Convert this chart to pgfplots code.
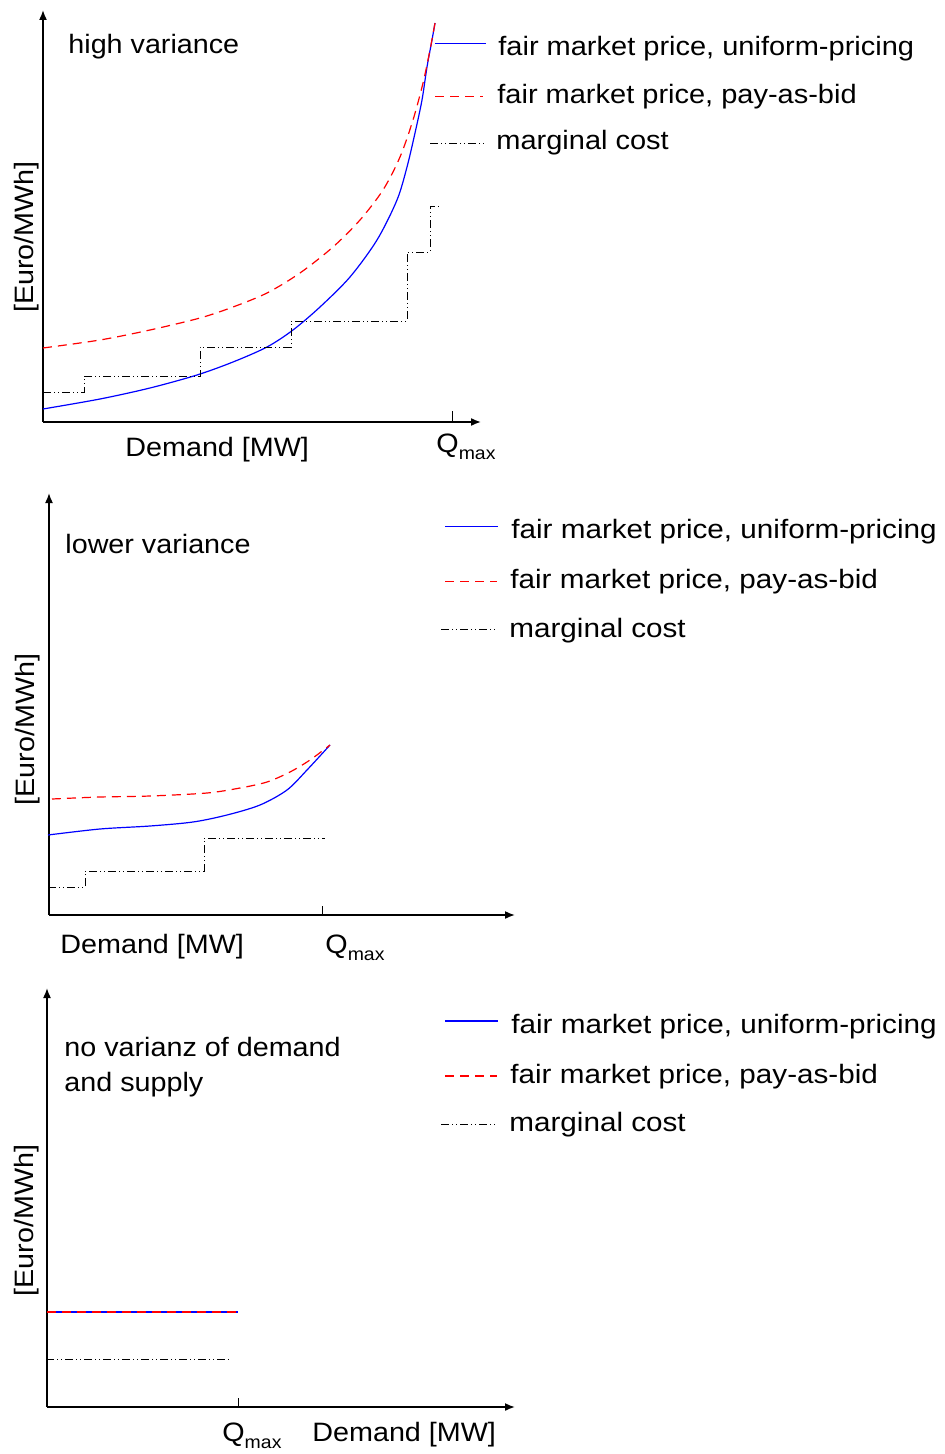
\documentclass[border=0pt]{standalone}
\usepackage{fontspec}
\setmainfont{Liberation Sans}[FakeStretch=1.08]
\newfontfamily\legA{Liberation Sans}[FakeStretch=1.09]
\newfontfamily\legB{Liberation Sans}[FakeStretch=1.115]
\usepackage{pgfplots}
\pgfplotsset{compat=1.18}
\usetikzlibrary{arrows.meta}

\tikzset{
  lbl/.style={font=\fontsize{13.3}{16}\selectfont, inner sep=0pt, anchor=base west},
  legtA/.style={font=\legA\fontsize{13.3}{16}\selectfont, inner sep=0pt, anchor=base west},
  legtB/.style={font=\legB\fontsize{13.3}{16}\selectfont, inner sep=0pt, anchor=base west},
  ylbl/.style={font=\fontsize{13.3}{16}\selectfont, inner sep=0pt, anchor=base, rotate=90},
  axarrow/.style={line width=0.8pt, -{Latex[length=5pt,width=4pt]}},
  unif/.style={blue, line width=0.6pt},
  pab/.style={red, line width=0.6pt, dash pattern=on 4.5pt off 3pt},
  mc/.style={black, line width=0.45pt, dash pattern=on 4pt off 1.5pt on 0.5pt off 1.5pt on 0.5pt off 1.5pt},
  leg/.style={line width=0.7pt},
}
\newcommand{\Qmax}{Q\raisebox{-3.5pt}{\fontsize{9}{10}\selectfont max}}

\pgfplotsset{panel/.style={scale only axis, width=472pt, xmin=0, xmax=944,
  axis lines=none, ticks=none, clip=false, anchor=north west}}

\begin{document}
\begin{tikzpicture}
\useasboundingbox (0pt,0pt) rectangle (472pt,-727pt);
% ---------------- panel 1: high variance
\begin{axis}[panel, height=235pt, ymin=-470, ymax=0, at={(0pt,0pt)}]
\draw[axarrow] (axis cs:43,-422) -- (axis cs:43,-10);
\draw[axarrow] (axis cs:43,-422) -- (axis cs:481,-422);
\draw[line width=0.5pt] (axis cs:452,-422) -- (axis cs:452,-411);
\addplot[unif, smooth] coordinates {(43,-409) (100,-399) (150,-388) (197,-375) (233,-362) (267,-347) (293,-330) (320,-307) (350,-277) (377,-240) (397,-200) (407,-167) (415,-133) (422,-100) (427,-67) (432,-40) (435,-23)};
\addplot[pab, smooth] coordinates {(43,-348) (100,-340) (150,-330) (200,-318) (233,-307) (267,-293) (300,-273) (333,-247) (360,-220) (383,-190) (400,-157) (413,-120) (423,-83) (430,-50) (435,-23)};
\addplot[mc, const plot] coordinates {(43,-392) (84,-376) (200,-347) (291,-321) (407,-252) (430,-206) (440,-206)};
\node[lbl] at (axis cs:68,-53.3) {high variance};
\node[ylbl] at (axis cs:34,-237) {[Euro/MWh]};
\node[lbl] at (axis cs:125,-456) {Demand [MW]};
\node[lbl] at (axis cs:436,-452) {\Qmax};
\draw[unif, leg] (axis cs:435,-43.3) -- (axis cs:486,-43.3);
\node[legtA] at (axis cs:498,-56) {fair market price, uniform-pricing};
\draw[pab, leg] (axis cs:435,-96.7) -- (axis cs:483,-96.7);
\node[legtA] at (axis cs:497,-103.3) {fair market price, pay-as-bid};
\draw[mc] (axis cs:430,-143.3) -- (axis cs:485,-143.3);
\node[legtA] at (axis cs:496,-150) {marginal cost};
\end{axis}
% ---------------- panel 2: lower variance
\begin{axis}[panel, height=250pt, ymin=-970, ymax=-470, at={(0pt,-235pt)}]
\draw[axarrow] (axis cs:49,-915) -- (axis cs:49,-493);
\draw[axarrow] (axis cs:49,-915) -- (axis cs:515,-915);
\draw[line width=0.5pt] (axis cs:322,-915) -- (axis cs:322,-906);
\addplot[unif, smooth] coordinates {(48,-835) (100,-829) (150,-826) (193,-822) (227,-815) (260,-805) (287,-790) (307,-770) (330,-745)};
\addplot[pab, smooth] coordinates {(52,-799) (100,-797) (150,-796) (207,-793) (240,-788) (267,-782) (290,-772) (310,-760) (330,-745)};
\addplot[mc, const plot] coordinates {(48,-887) (85,-871) (204,-838) (325,-838)};
\node[lbl] at (axis cs:65,-553) {lower variance};
\node[ylbl] at (axis cs:34,-729.5) {[Euro/MWh]};
\node[lbl] at (axis cs:60,-953) {Demand [MW]};
\node[lbl] at (axis cs:325,-953) {\Qmax};
\draw[unif, leg] (axis cs:445,-526.7) -- (axis cs:498,-526.7);
\node[legtB] at (axis cs:511,-538) {fair market price, uniform-pricing};
\draw[pab, leg] (axis cs:445,-581.7) -- (axis cs:497,-581.7);
\node[legtB] at (axis cs:510,-588) {fair market price, pay-as-bid};
\draw[mc] (axis cs:441,-629) -- (axis cs:497,-629);
\node[legtB] at (axis cs:509,-637) {marginal cost};
\end{axis}
% ---------------- panel 3: no variance
\begin{axis}[panel, height=242pt, ymin=-1454, ymax=-970, at={(0pt,-485pt)}]
\draw[axarrow] (axis cs:47,-1407) -- (axis cs:47,-988);
\draw[axarrow] (axis cs:47,-1407) -- (axis cs:515,-1407);
\draw[line width=0.5pt] (axis cs:238,-1407) -- (axis cs:238,-1398);
\addplot[unif] coordinates {(47,-1312) (238,-1312)};
\addplot[pab] coordinates {(47,-1312) (238,-1312)};
\addplot[mc] coordinates {(46,-1359) (231,-1359)};
\node[lbl] at (axis cs:64,-1056.7) {no varianz of demand};
\node[lbl] at (axis cs:64,-1091) {and supply};
\node[ylbl] at (axis cs:34,-1220.5) {[Euro/MWh]};
\node[lbl] at (axis cs:222,-1441) {\Qmax};
\node[lbl] at (axis cs:312,-1441) {Demand [MW]};
\draw[unif, leg] (axis cs:445,-1021) -- (axis cs:498,-1021);
\node[legtB] at (axis cs:511,-1033.3) {fair market price, uniform-pricing};
\draw[pab, leg] (axis cs:445,-1076) -- (axis cs:497,-1076);
\node[legtB] at (axis cs:510,-1083.3) {fair market price, pay-as-bid};
\draw[mc] (axis cs:441,-1124) -- (axis cs:497,-1124);
\node[legtB] at (axis cs:509,-1131.7) {marginal cost};
\end{axis}
\end{tikzpicture}
\end{document}
